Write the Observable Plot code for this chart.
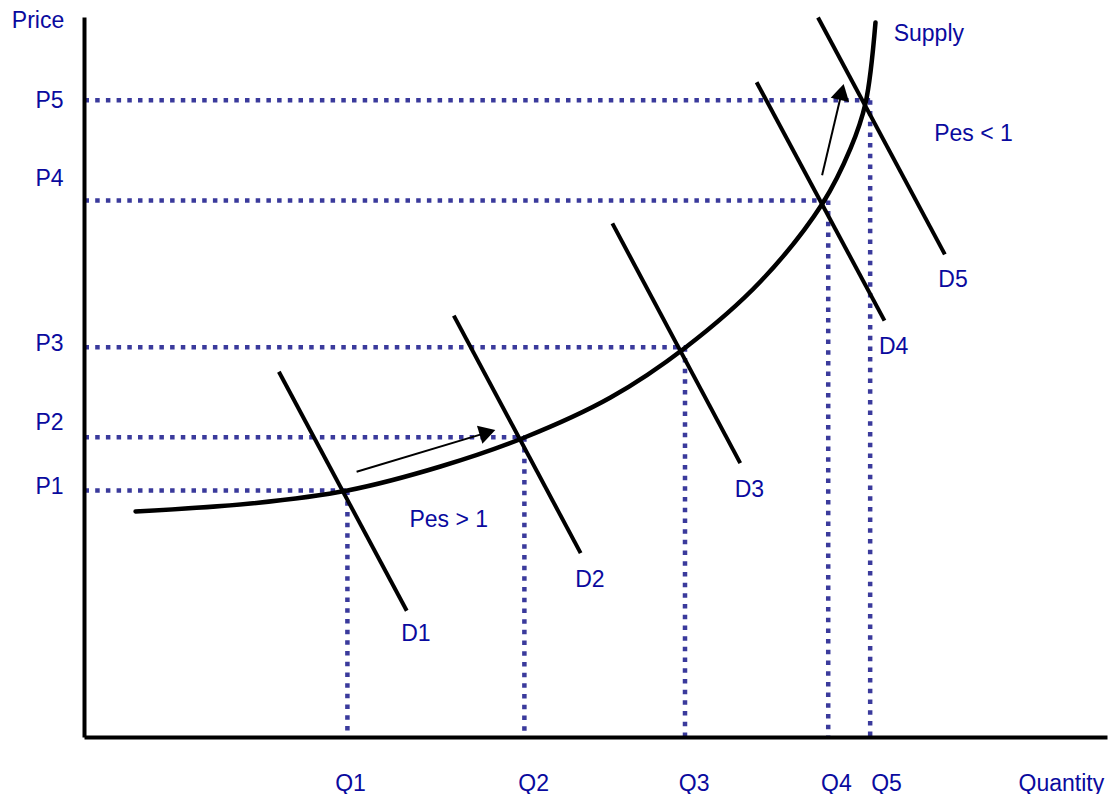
<!DOCTYPE html>
<html>
<head>
<meta charset="utf-8">
<script src="https://cdn.jsdelivr.net/npm/d3@7"></script>
<script src="https://cdn.jsdelivr.net/npm/@observablehq/plot@0.6"></script>
<style>
  html, body { margin: 0; padding: 0; background: #fff; }
  #chart svg { display: block; }
</style>
</head>
<body>
<div id="chart"></div>
<script>
// Equilibrium quantities and prices (arbitrary 0–100 units)
const qLabels = ["Q1", "Q2", "Q3", "Q4", "Q5"];
const pLabels = ["P1", "P2", "P3", "P4", "P5"];
const qValues = [25.7, 43.0, 58.7, 72.7, 76.8];
const pValues = [34.3, 41.7, 54.2, 74.6, 88.5];
// where the tick labels sit
const qLabelX = [26.0, 43.9, 59.6, 73.5, 78.4];
const pLabelY = [34.9, 43.8, 54.7, 77.6, 88.5];

// Supply curve points
const supplyQ = [4.99, 16.23, 25.71, 34.80, 43.01, 51.42, 58.75, 66.08, 72.14, 74.88, 76.34, 77.32];
const supplyP = [31.39, 32.50, 34.31, 37.64, 41.67, 47.22, 54.17, 63.33, 74.17, 81.81, 88.06, 99.31];

// Demand lines (start q, start p, end q, end p)
const demandNames = ["D1", "D2", "D3", "D4", "D5"];
const demandQ1 = [19.0, 36.1, 51.6, 65.7, 71.7];
const demandP1 = [50.8, 58.6, 71.4, 91.0, 100.0];
const demandQ2 = [31.5, 48.5, 64.1, 78.2, 84.1];
const demandP2 = [17.6, 25.6, 38.1, 57.9, 67.1];
const demandLabelQ = [32.4, 49.4, 65.0, 79.1, 84.9];
const demandLabelP = [14.4, 21.9, 34.4, 54.3, 63.6];

// Arrows showing movement along supply
const arrowQ1 = [26.6, 72.1];
const arrowP1 = [36.9, 78.1];
const arrowQ2 = [39.7, 74.1];
const arrowP2 = [42.5, 90.1];

// Annotations
const centeredNotes = [
  {text: "Pes > 1", q: 35.6, p: 30.3},
  {text: "Pes < 1", q: 86.9, p: 83.9}
];
const leftNotes = [
  {text: "Supply", q: 79.1, p: 97.8},
  {text: "Price", q: -7.1, p: 99.6},
  {text: "Quantity", q: 91.3, p: -6.4}
];

const W = 1109, H = 794;
const mL = 84, mR = 2, mT = 17, mB = 57;
const xS = d3.scaleLinear().domain([0, 100]).range([mL, W - mR]);
const yS = d3.scaleLinear().domain([0, 100]).range([H - mB, mT]);

const navy = "#0a0a9e";
const dotBlue = "#3a3a9c";
const font = "Liberation Sans, Arial, sans-serif";
const fs = 23;

const hLines = pValues.map((p, i) => ({q1: 0, q2: qValues[i], p}));
const vLines = qValues.map((q, i) => ({q, p1: pValues[i], p2: 0}));
const supply = supplyQ.map((q, i) => ({q, p: supplyP[i]}));
const demand = demandNames.map((n, i) => ({name: n, q1: demandQ1[i], p1: demandP1[i], q2: demandQ2[i], p2: demandP2[i]}));
const demandLbl = demandNames.map((n, i) => ({name: n, q: demandLabelQ[i], p: demandLabelP[i]}));
const qTicks = qLabels.map((t, i) => ({t, q: qLabelX[i]}));
const pTicks = pLabels.map((t, i) => ({t, p: pLabelY[i]}));

// arrows: shaft + filled triangular head
const arrows = arrowQ1.map((q, i) => {
  const x1 = xS(q), y1 = yS(arrowP1[i]), x2 = xS(arrowQ2[i]), y2 = yS(arrowP2[i]);
  const ang = Math.atan2(y2 - y1, x2 - x1);
  const back = 6;
  const cx = x2 - back * Math.cos(ang), cy = y2 - back * Math.sin(ang);
  return {q1: q, p1: arrowP1[i], q2: arrowQ2[i], p2: arrowP2[i],
          hq: xS.invert(cx), hp: yS.invert(cy), rot: ang * 180 / Math.PI + 90,
          sq: xS.invert(x2 - 10 * Math.cos(ang)), sp: yS.invert(y2 - 10 * Math.sin(ang))};
});

const chart = Plot.plot({
  width: W,
  height: H,
  marginLeft: mL, marginRight: mR, marginTop: mT, marginBottom: mB,
  x: {domain: [0, 100], axis: null},
  y: {domain: [0, 100], axis: null},
  style: {fontFamily: font, background: "#fff", overflow: "visible"},
  marks: [
    // dotted guides
    Plot.link(hLines, {x1: "q1", x2: "q2", y1: "p", y2: "p", stroke: dotBlue, strokeWidth: 4.5, strokeDasharray: "4.5,6.2"}),
    Plot.link(vLines, {x1: "q", x2: "q", y1: "p1", y2: "p2", stroke: dotBlue, strokeWidth: 4.5, strokeDasharray: "4.5,6.2"}),
    // axes
    Plot.link([{a: 0}], {x1: 0, x2: 0, y1: 0, y2: 100, stroke: "#000", strokeWidth: 4}),
    Plot.link([{a: 0}], {x1: 0, x2: 100, y1: 0, y2: 0, stroke: "#000", strokeWidth: 4}),
    // demand lines
    Plot.link(demand, {x1: "q1", y1: "p1", x2: "q2", y2: "p2", stroke: "#000", strokeWidth: 4}),
    // supply
    Plot.line(supply, {x: "q", y: "p", curve: "catmull-rom", stroke: "#000", strokeWidth: 4.5}),
    // arrows
    Plot.link(arrows, {x1: "q1", y1: "p1", x2: "sq", y2: "sp", stroke: "#000", strokeWidth: 2}),
    Plot.dot(arrows, {x: "hq", y: "hp", symbol: "triangle", r: 7, rotate: "rot", fill: "#000", stroke: "none"}),
    // labels
    Plot.text(demandLbl, {x: "q", y: "p", text: "name", fill: navy, fontSize: fs}),
    Plot.text(qTicks, {x: "q", y: -6.4, text: "t", fill: navy, fontSize: fs}),
    Plot.text(pTicks, {x: -2.05, y: "p", text: "t", fill: navy, fontSize: fs, textAnchor: "end"}),
    Plot.text(centeredNotes, {x: "q", y: "p", text: "text", fill: navy, fontSize: fs}),
    Plot.text(leftNotes, {x: "q", y: "p", text: "text", textAnchor: "start", fill: navy, fontSize: fs})
  ]
});
document.getElementById("chart").appendChild(chart);
</script>
</body>
</html>
